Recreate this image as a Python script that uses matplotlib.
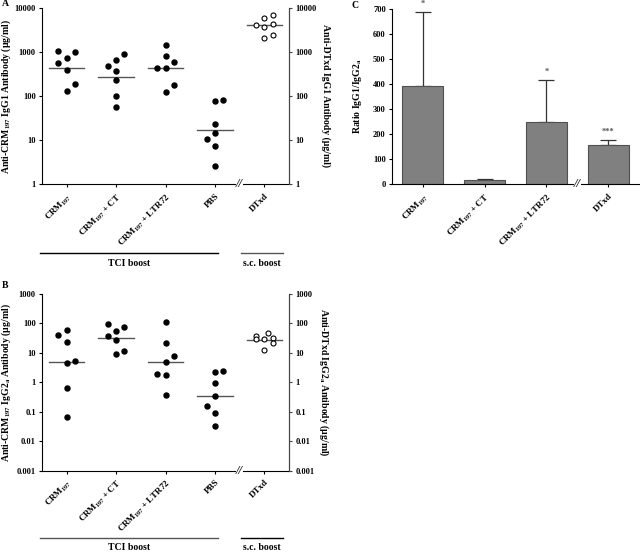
import numpy as np
import matplotlib
matplotlib.use('Agg')
import matplotlib.pyplot as plt
import matplotlib.lines as ln
from matplotlib.ticker import FixedLocator, FixedFormatter

plt.rcParams['font.family'] = ['Liberation Serif', 'DejaVu Serif']
plt.rcParams['font.weight'] = 'bold'
plt.rcParams['mathtext.fontset'] = 'custom'
plt.rcParams['mathtext.rm'] = 'Liberation Serif:bold'
plt.rcParams['mathtext.it'] = 'Liberation Serif:bold'
plt.rcParams['mathtext.bf'] = 'Liberation Serif:bold'

# categories
groups = ['CRM$_{197}$', 'CRM$_{197}$ + CT', 'CRM$_{197}$ + LTR72', 'PBS', 'DTxd']
groups_c = ['CRM$_{197}$', 'CRM$_{197}$ + CT', 'CRM$_{197}$ + LTR72', 'DTxd']

# panel A: IgG1 (ug/ml)
igg1_crm = [1070, 1018, 718, 573, 383, 187, 132]
igg1_ct = [472, 658, 885, 370, 227, 100, 55]
igg1_ltr = [1443, 798, 603, 440, 430, 178, 126]
igg1_pbs = [77, 80, 22.7, 14.2, 10.7, 7.4, 2.6]
igg1_dtxd = [6030, 6810, 4180, 3770, 4255, 2045, 2480]
igg1_median = [441, 270, 430, 16.6, 4180]

# panel B: IgG2a (ug/ml)
igg2_crm = [41, 59, 23, 5.1, 4.6, 0.65, 0.066]
igg2_ct = [97, 55, 75, 37, 27, 9.1, 11.2]
igg2_ltr = [110, 21, 8, 4.8, 1.87, 1.78, 0.37]
igg2_pbs = [2.19, 2.5, 0.98, 0.35, 0.155, 0.087, 0.032]
igg2_dtxd = [36, 30, 28.5, 48, 33, 22, 12.4]
igg2_median = [4.8, 31.6, 5.0, 0.35, 28]

# panel C: ratio IgG1/IgG2a
ratio_mean = [390, 15, 249, 155]
ratio_err = [298, 4, 166, 22]
ratio_sig = ['*', '', '*', '***']

# horizontal spreading of overlapping dots (layout only)
spread_a = [[-1, 1, 0, -1, 0, 1, 0], [-1, 0, 1, 0, 0, 0, 0], [0, 0, 1, -1, 0, 1, 0],
            [0, 1, 0, 0, -1, 0, 0], [0, 1, -1, 0, 1, 0, 1]]
spread_b = [[-1, 0, 0, 1, 0, 0, 0], [-1, 0, 1, -1, 0, 0, 1], [0, 0, 1, 0, -1, 0, 0],
            [0, 1, 0, 0, -1, 0, 0], [-1, -1, 0, 0.45, 1, 1, 0]]

W, H = 640, 552
fig = plt.figure(figsize=(6.4, 5.52), dpi=100)


def box(l, t, r, b):
    return [l / W, 1 - b / H, (r - l) / W, (b - t) / H]


def fig_line(x0, x1, y, color='k'):
    fig.add_artist(ln.Line2D([x0 / W, x1 / W], [1 - y / H, 1 - y / H],
                             color=color, lw=1.0, transform=fig.transFigure))


def fig_text(x, y, s, **kw):
    fig.text(x / W, 1 - y / H, s, ha='center', va='center', fontsize=7,
             fontweight='bold', **kw)


def axis_break(ax, x):
    # "//" mark on the x axis
    ax.text(x, 0, '//', transform=ax.get_xaxis_transform(), ha='center',
            va='center', fontsize=9, fontstyle='italic', color='#222222',
            bbox=dict(facecolor='white', edgecolor='none', pad=0.1))


def dot_panel(ax, series, spread, medians, ylim, ticks, ticklabels, ylabel, ylabel_r):
    for i, vals in enumerate(series):
        xs = [i + 0.17 * s for s in spread[i]]
        if i == 4:
            ax.scatter(xs, vals, s=13, facecolors='white', edgecolors='k',
                       linewidths=0.8, zorder=3)
        else:
            ax.scatter(xs, vals, s=13, color='k', zorder=3)
        ax.plot([i - 0.36, i + 0.36], [medians[i], medians[i]], color='#555555',
                lw=1.0, zorder=2)
    ax.set_yscale('log')
    ax.set_ylim(*ylim)
    ax.set_xlim(-0.5, 4.5)
    ax.yaxis.set_major_locator(FixedLocator(ticks))
    ax.yaxis.set_major_formatter(FixedFormatter(ticklabels))
    ax.yaxis.set_minor_locator(FixedLocator([]))
    ax.set_xticks(range(5))
    ax.set_xticklabels(groups, rotation=45, ha='right', rotation_mode='anchor',
                       fontsize=6.5)
    ax.tick_params(axis='both', length=2.5, width=0.8, labelsize=6, pad=2)
    ax.tick_params(axis='x', pad=3, labelsize=6.5)
    ax.spines['top'].set_visible(False)
    ax.spines['right'].set_color('#444444')
    ax.set_ylabel(ylabel, fontsize=7, fontweight='bold')
    ax.yaxis.set_label_coords(-0.118, 0.5)
    ax2 = ax.twinx()
    ax2.set_yscale('log')
    ax2.set_ylim(*ylim)
    ax2.yaxis.set_major_locator(FixedLocator(ticks))
    ax2.yaxis.set_major_formatter(FixedFormatter(ticklabels))
    ax2.yaxis.set_minor_locator(FixedLocator([]))
    ax2.tick_params(axis='y', length=2.5, width=0.8, labelsize=6, pad=2, color='#444444')
    for sp in ['top', 'left', 'bottom']:
        ax2.spines[sp].set_visible(False)
    ax2.spines['right'].set_color('#444444')
    ax2.set_ylabel(ylabel_r, fontsize=7, fontweight='bold', rotation=270)
    ax2.yaxis.set_label_coords(1.17, 0.5)
    axis_break(ax, 3.5)
    for t in ax.get_yticklabels() + ax2.get_yticklabels():
        t.set_fontweight('bold')


# panel A
axA = fig.add_axes(box(42, 8, 289, 184))
dot_panel(axA, [igg1_crm, igg1_ct, igg1_ltr, igg1_pbs, igg1_dtxd], spread_a,
          igg1_median, (1, 10000), [1, 10, 100, 1000, 10000],
          ['1', '10', '100', '1000', '10000'],
          'Anti-CRM$_{197}$ IgG1 Antibody (\u00b5g/ml)',
          'Anti-DTxd IgG1 Antibody (\u00b5g/ml)')
fig_line(40, 218, 253, 'k')
fig_line(241, 283, 253, '#555555')
fig_text(129, 263, 'TCI boost')
fig_text(262, 263, 's.c. boost')

# panel B
axB = fig.add_axes(box(42, 294, 289, 470.5))
dot_panel(axB, [igg2_crm, igg2_ct, igg2_ltr, igg2_pbs, igg2_dtxd], spread_b,
          igg2_median, (0.001, 1000), [0.001, 0.01, 0.1, 1, 10, 100, 1000],
          ['0.001', '0.01', '0.1', '1', '10', '100', '1000'],
          'Anti-CRM$_{197}$ IgG2$_\\mathrm{a}$ Antibody (\u00b5g/ml)',
          'Anti-DTxd IgG2$_\\mathrm{a}$ Antibody (\u00b5g/ml)')
fig_line(40, 218, 538, '#555555')
fig_line(241, 283, 538, 'k')
fig_text(129, 548, 'TCI boost')
fig_text(262, 548, 's.c. boost')

# panel C
axC = fig.add_axes(box(392, 9, 639, 184))
xc = np.arange(len(groups_c))
axC.bar(xc, ratio_mean, width=0.66, color='#808080', edgecolor='#505050',
        linewidth=0.8, zorder=2)
axC.errorbar(xc, ratio_mean, yerr=[np.zeros(len(xc)), ratio_err], fmt='none',
             ecolor='#333333', elinewidth=0.9, capsize=6, capthick=0.9, zorder=1)
for i, s in enumerate(ratio_sig):
    if s:
        axC.annotate(s, (xc[i], ratio_mean[i] + ratio_err[i]), xytext=(0, 3),
                     textcoords='offset points', ha='center', va='bottom',
                     fontsize=6, color='#555555')
axC.set_ylim(0, 700)
axC.set_xlim(-0.5, 3.5)
axC.set_yticks(range(0, 701, 100))
axC.set_xticks(xc)
axC.set_xticklabels(groups_c, rotation=45, ha='right', rotation_mode='anchor',
                    fontsize=6.5)
axC.tick_params(axis='both', length=2.5, width=0.8, labelsize=6, pad=2)
axC.tick_params(axis='x', pad=3, labelsize=6.5)
for t in axC.get_yticklabels():
    t.set_fontweight('bold')
axC.spines['top'].set_visible(False)
axC.spines['right'].set_visible(False)
axC.set_ylabel('Ratio IgG1/IgG2$_\\mathrm{a}$', fontsize=7, fontweight='bold')
axC.yaxis.set_label_coords(-0.115, 0.5)
axis_break(axC, 2.5)

fig.text(2 / W, 1 - 4 / H, 'A', fontsize=7, fontweight='bold', va='center')
fig.text(2 / W, 1 - 285 / H, 'B', fontsize=7, fontweight='bold', va='center')
fig.text(351 / W, 1 - 5 / H, 'C', fontsize=7, fontweight='bold', va='center')

fig.savefig('out.png', dpi=100)
